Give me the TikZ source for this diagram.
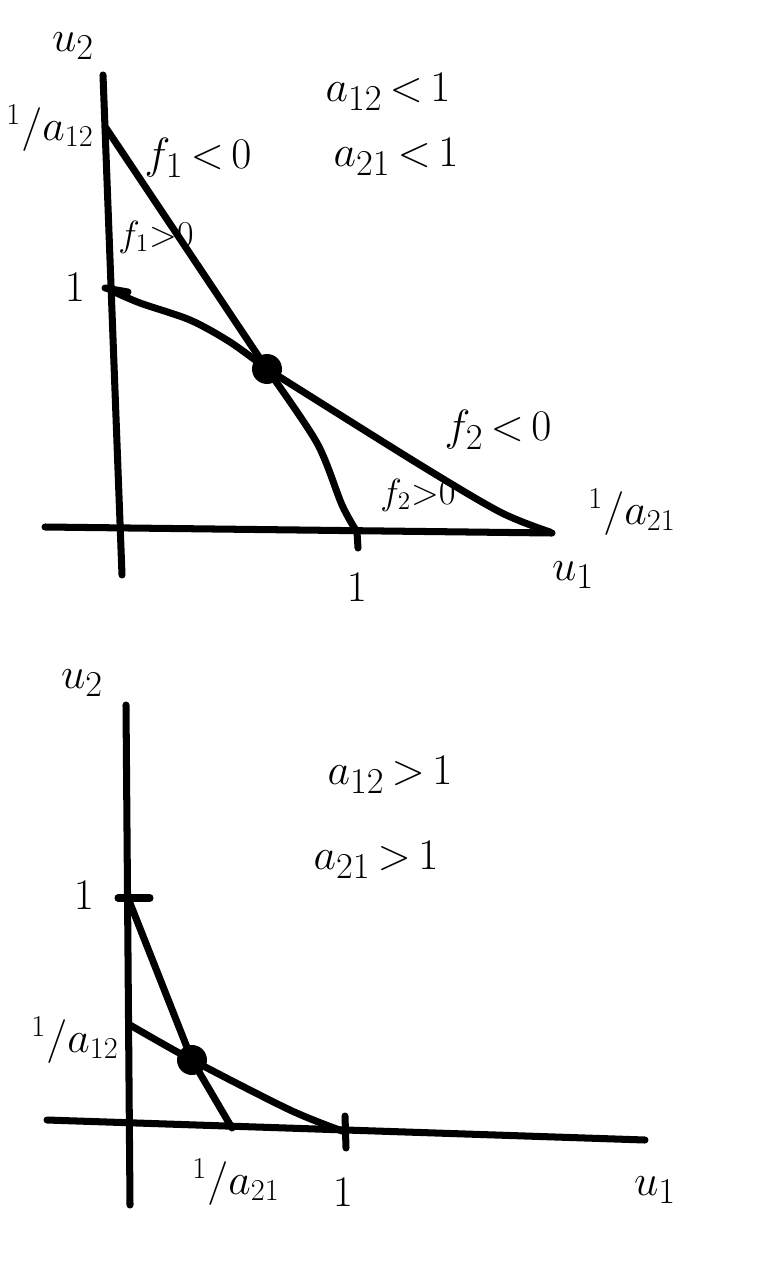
\documentclass[tikz,border=0pt]{standalone}
\usetikzlibrary{positioning}
\begin{document}
\begin{tikzpicture}[x=0.02cm,y=-0.02cm,
 pen/.style={line width=4pt,line cap=round,line join=round},
 eqdot/.style={circle,fill,inner sep=0pt,minimum size=0.6cm},
 lbl/.style={font=\fontsize{28}{32}\selectfont,inner sep=1pt},
 frc/.style={font=\fontsize{23}{26}\selectfont,inner sep=1pt},
 sml/.style={font=\fontsize{21}{24}\selectfont,inner sep=1pt}]
\useasboundingbox (0,0) rectangle (779,1280);
% upper phase plane: a12<1, a21<1
\coordinate (tyA) at (103,75);
\coordinate (tyB) at (122,575);
\coordinate (txA) at (45,527);
\coordinate (txB) at (552,533);
\coordinate (tInvA) at (106,128);
\coordinate (tOne) at (110,290);
\coordinate (tOneX) at (357,532);
\coordinate (tInvB) at (550,532);
\node[eqdot] (tEq) at (267,369) {};
\draw[pen] (tyA) -- (tyB);
\draw[pen] (txA) -- (txB);
\draw[pen] (105,288) -- (128,292);
\draw[pen] (tOneX) -- (358,548);
\draw[pen] (tInvA) -- (tEq.center);
\draw[pen] plot[smooth,tension=0.5] coordinates {(tEq.center) (317,443) (342,505) (tOneX)};
\draw[pen] plot[smooth,tension=0.5] coordinates {(tOne) (140,303) (190,320) (230,342) (tEq.center)};
\draw[pen] plot[smooth,tension=0.5] coordinates {(tEq.center) (417,463) (500,512) (tInvB)};
\node[lbl] (tU2) at (73,46) {$u_2$};
\node[frc] (tInvAl) at (50,128) {$^1/a_{12}$};
\node[lbl] (tOneL) at (75,287) {$1$};
\node[lbl] (tF1neg) at (198,158) {$f_1\,{<}\,0$};
\node[sml] (tF1pos) at (156,237) {$f_1{>}0$};
\node[lbl] (tA12) at (388,92) {$a_{12}\,{<}\,1$};
\node[lbl] (tA21) at (396,157) {$a_{21}\,{<}\,1$};
\node[lbl] (tF2neg) at (498,430) {$f_2\,{<}\,0$};
\node[sml] (tF2pos) at (418,495) {$f_2{>}0$};
\node[frc] (tInvBl) at (632,512) {$^1/a_{21}$};
\node[lbl] (tU1) at (573,575) {$u_1$};
\node[lbl] (tOneXl) at (357,587) {$1$};
% lower phase plane: a12>1, a21>1
\coordinate (byA) at (126,705);
\coordinate (byB) at (130,1205);
\coordinate (bxA) at (47,1120);
\coordinate (bxB) at (645,1140);
\coordinate (bOne) at (128,898);
\coordinate (bInvA) at (130,1025);
\coordinate (bInvB) at (232,1128);
\coordinate (bOneX) at (345,1132);
\node[eqdot] (bEq) at (192,1060) {};
\draw[pen] (byA) -- (byB);
\draw[pen] (bxA) -- (bxB);
\draw[pen] (118,898) -- (150,898);
\draw[pen] (345,1116) -- (346,1148);
\draw[pen] (bOne) -- (bEq.center) -- (bInvB);
\draw[pen] plot[smooth,tension=0.5] coordinates {(bInvA) (bEq.center) (290,1110) (bOneX)};
\node[lbl] (bU2) at (82,683) {$u_2$};
\node[lbl] (bA12) at (390,775) {$a_{12}\,{>}\,1$};
\node[lbl] (bA21) at (376,860) {$a_{21}\,{>}\,1$};
\node[lbl] (bOneL) at (84,895) {$1$};
\node[frc] (bInvAl) at (75,1040) {$^1/a_{12}$};
\node[frc] (bInvBl) at (236,1182) {$^1/a_{21}$};
\node[lbl] (bOneXl) at (343,1192) {$1$};
\node[lbl] (bU1) at (655,1190) {$u_1$};
\end{tikzpicture}
\end{document}
